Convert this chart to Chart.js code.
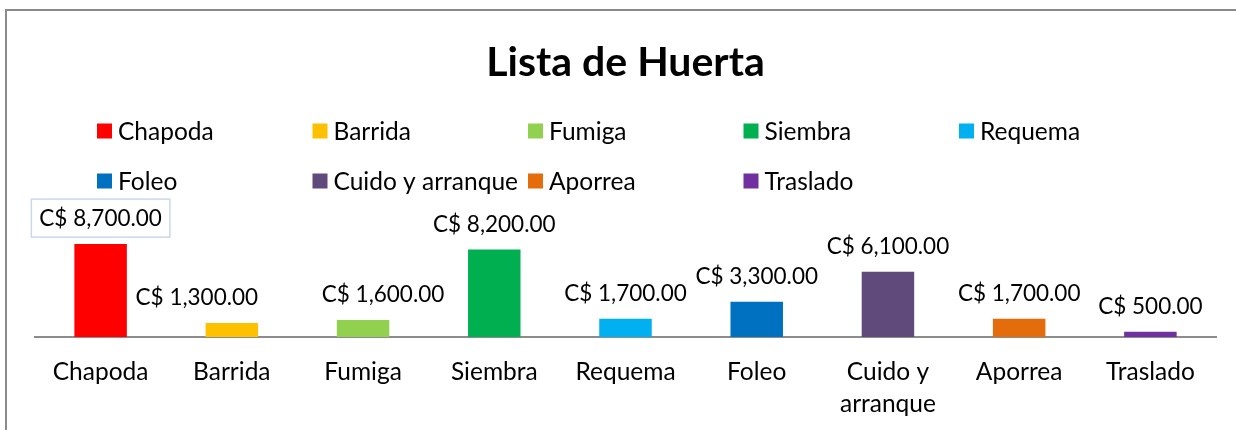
<!DOCTYPE html>
<html>
<head>
<meta charset="utf-8">
<title>Lista de Huerta</title>
<script src="https://cdn.jsdelivr.net/npm/chart.js@4.4.1/dist/chart.umd.min.js"></script>
<style>
  html, body { margin: 0; padding: 0; background: #fff; }
</style>
</head>
<body>
<canvas id="huertaChart" width="1236" height="430"></canvas>
<script>
"use strict";

// Data of the chart
const tareas = ["Chapoda", "Barrida", "Fumiga", "Siembra", "Requema", "Foleo", "Cuido y arranque", "Aporrea", "Traslado"];
const costos = [8700, 1300, 1600, 8200, 1700, 3300, 6100, 1700, 500];
const colores = ["#FF0000", "#FFC000", "#92D050", "#00B050", "#00B0F0", "#0070C0", "#604A7B", "#E46C0A", "#7030A0"];
// Axis labels, the long one is split in two lines
const ejeEtiquetas = ["Chapoda", "Barrida", "Fumiga", "Siembra", "Requema", "Foleo", ["Cuido y", "arranque"], "Aporrea", "Traslado"];

const FONT = "Lato, 'Open Sans', sans-serif";
const TEXT_SIZE = 24.5;
const VALUE_SIZE = 22.5;

function formatCosto(v) {
	return "C$ " + v.toLocaleString("en-US", { minimumFractionDigits: 2, maximumFractionDigits: 2 });
}

// White background and the grey frame of the chart object
const framePlugin = {
	id: "frame",
	beforeDraw(chart) {
		const ctx = chart.ctx;
		ctx.save();
		ctx.fillStyle = "#fff";
		ctx.fillRect(0, 0, chart.width, chart.height);
		ctx.strokeStyle = "#8a8a8a";
		ctx.lineWidth = 2;
		ctx.beginPath();
		ctx.moveTo(6, chart.height);
		ctx.lineTo(6, 10);
		ctx.lineTo(chart.width, 10);
		ctx.stroke();
		ctx.restore();
	},
};

// Legend drawn as a grid of fixed columns, like the spreadsheet one
const gridLegendPlugin = {
	id: "gridLegend",
	afterDraw(chart, args, opts) {
		const ctx = chart.ctx;
		ctx.save();
		ctx.font = TEXT_SIZE + "px " + FONT;
		ctx.textBaseline = "middle";
		ctx.textAlign = "left";
		chart.data.labels.forEach(function (label, i) {
			const col = i % opts.perRow;
			const row = Math.floor(i / opts.perRow);
			const x = opts.left + col * opts.colWidth;
			const y = opts.top + row * opts.rowHeight;
			ctx.fillStyle = chart.data.datasets[0].backgroundColor[i];
			ctx.fillRect(x, y - opts.box / 2, opts.box, opts.box);
			ctx.fillStyle = "#000";
			ctx.fillText(label, x + opts.box + 6, y + 1);
		});
		ctx.restore();
	},
};

// Value labels above each bar
const valueLabelPlugin = {
	id: "valueLabels",
	afterDatasetsDraw(chart, args, opts) {
		const ctx = chart.ctx;
		const meta = chart.getDatasetMeta(0);
		ctx.save();
		ctx.font = VALUE_SIZE + "px " + FONT;
		ctx.textBaseline = "middle";
		ctx.textAlign = "center";
		meta.data.forEach(function (bar, i) {
			const x = bar.x + (opts.shiftX[i] || 0);
			const y = bar.y - opts.gap;
			const text = formatCosto(chart.data.datasets[0].data[i]);
			if (i === opts.boxedIndex) {
				const w = ctx.measureText(text).width + 16;
				ctx.strokeStyle = "#c9d8ee";
				ctx.lineWidth = 1.5;
				ctx.strokeRect(x - w / 2, y - 19, w, 38);
			}
			ctx.fillStyle = "#000";
			ctx.fillText(text, x, y + 1);
		});
		ctx.restore();
	},
};

const ctx = document.getElementById("huertaChart");

new Chart(ctx, {
	type: "bar",
	data: {
		labels: tareas,
		datasets: [
			{
				label: "Costo",
				data: costos,
				backgroundColor: colores,
				borderWidth: 0,
				barPercentage: 0.4,
				categoryPercentage: 1.0,
			},
		],
	},
	options: {
		responsive: false,
		animation: false,
		devicePixelRatio: 1,
		layout: {
			padding: { top: 0, left: 35, right: 20, bottom: 0 },
		},
		scales: {
			x: {
				labels: ejeEtiquetas,
				grid: { display: false, drawTicks: false, tickLength: 0 },
				border: { display: true, color: "#8c8c8c", width: 2 },
				ticks: {
					color: "#000",
					padding: 20,
					maxRotation: 0,
					autoSkip: false,
					font: { family: FONT, size: TEXT_SIZE, lineHeight: 1.27 },
				},
				// keep the axis line where the original has it
				afterFit(scale) {
					scale.height = 93;
				},
			},
			y: {
				display: false,
				min: 0,
				max: 10000,
			},
		},
		plugins: {
			legend: { display: false },
			tooltip: { enabled: false },
			title: {
				display: true,
				text: "Lista de Huerta",
				color: "#000",
				font: { family: FONT, size: 41, weight: "bold", lineHeight: 1.2 },
				padding: { top: 38, bottom: 143 },
			},
			gridLegend: {
				left: 97,
				top: 131,
				colWidth: 215.5,
				rowHeight: 50,
				perRow: 5,
				box: 15,
			},
			valueLabels: {
				gap: 26,
				boxedIndex: 0,
				shiftX: [0, -35, 20, 0, 0, 0, 0, 0, 0],
			},
		},
	},
	plugins: [framePlugin, gridLegendPlugin, valueLabelPlugin],
});
</script>
</body>
</html>
